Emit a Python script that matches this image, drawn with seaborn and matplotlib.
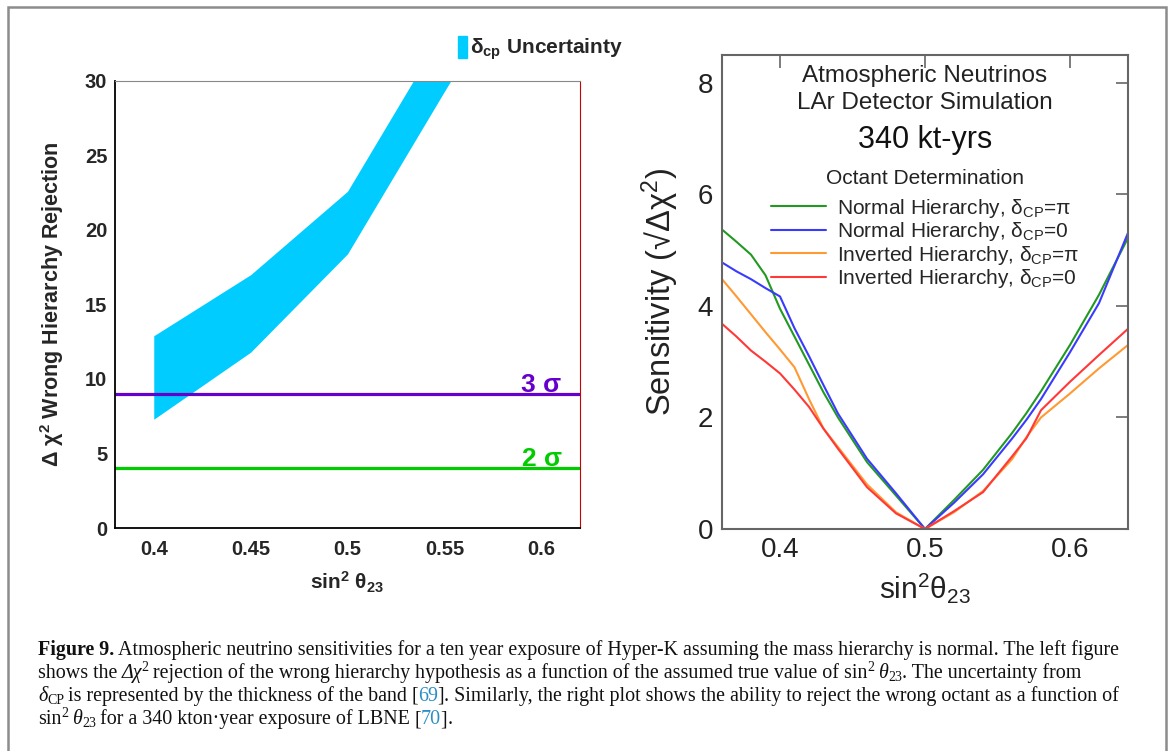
import numpy as np
import pandas as pd
import matplotlib.pyplot as plt
import seaborn as sns
from matplotlib.ticker import MultipleLocator, FuncFormatter
from matplotlib.patches import Patch, Rectangle

# left panel: wrong hierarchy rejection band
band_x = [0.40, 0.45, 0.50, 0.55, 0.60]
band_lo = [7.3, 11.8, 18.4, 29.3, 40.0]
band_hi = [12.9, 17.0, 22.6, 33.5, 45.0]
sigma_levels = [9, 4]
sigma_labels = ["3 σ", "2 σ"]
sigma_colors = ["#6600cc", "#00cc00"]

# right panel: octant determination
oct_x = [0.36, 0.37, 0.38, 0.39, 0.40, 0.41, 0.42, 0.43, 0.44, 0.46, 0.48, 0.50,
         0.52, 0.54, 0.56, 0.57, 0.58, 0.60, 0.62, 0.64]
nh_pi = [5.37, 5.15, 4.92, 4.55, 3.95, 3.45, 2.95, 2.45, 2.0, 1.2, 0.6, 0.0,
         0.52, 1.06, 1.72, 2.08, 2.47, 3.3, 4.2, 5.22]
nh_0 = [4.78, 4.62, 4.48, 4.32, 4.17, 3.6, 3.1, 2.58, 2.07, 1.26, 0.64, 0.0,
        0.47, 0.98, 1.62, 1.96, 2.33, 3.17, 4.05, 5.31]
ih_pi = [4.48, 4.17, 3.85, 3.53, 3.22, 2.9, 2.33, 1.8, 1.47, 0.8, 0.3, 0.0,
         0.3, 0.68, 1.25, 1.65, 2.0, 2.43, 2.88, 3.3]
ih_0 = [3.68, 3.45, 3.2, 3.0, 2.79, 2.5, 2.19, 1.8, 1.44, 0.75, 0.28, 0.0,
        0.32, 0.66, 1.3, 1.63, 2.13, 2.64, 3.12, 3.59]
case_labels = [r"Normal Hierarchy, $\delta_{CP}$=$\pi$",
               r"Normal Hierarchy, $\delta_{CP}$=0",
               r"Inverted Hierarchy, $\delta_{CP}$=$\pi$",
               r"Inverted Hierarchy, $\delta_{CP}$=0"]
case_colors = ["#229922", "#3a3aff", "#ff9933", "#ff3838"]

sns.set_style("white")
plt.rcParams['font.family'] = ['Liberation Sans', 'DejaVu Sans']
plt.rcParams['mathtext.fontset'] = 'custom'
plt.rcParams['mathtext.rm'] = 'Liberation Sans'
plt.rcParams['mathtext.it'] = 'Liberation Sans:italic'
plt.rcParams['mathtext.bf'] = 'Liberation Sans:bold'
plt.rcParams['mathtext.default'] = 'regular'

W, H = 1171, 751
fig = plt.figure(figsize=(W / 100, H / 100), dpi=100)

# ---------- left panel
axL = fig.add_axes([115 / W, 1 - 528 / H, 465 / W, 447 / H])
axL.fill_between(band_x, band_lo, band_hi, color="#00ccff", lw=0)
for lev, lab, col in zip(sigma_levels, sigma_labels, sigma_colors):
    axL.axhline(lev, color=col, lw=2.3)
    axL.text(0.6105, lev + 0.15, lab, color=col, ha='right', va='baseline',
             fontsize=19, fontweight='bold')
axL.set_xlim(0.38, 0.62)
axL.set_ylim(0, 30)
axL.xaxis.set_major_locator(MultipleLocator(0.05))
axL.xaxis.set_minor_locator(MultipleLocator(0.01))
axL.yaxis.set_major_locator(MultipleLocator(5))
axL.yaxis.set_minor_locator(MultipleLocator(1))
axL.xaxis.set_major_formatter(FuncFormatter(lambda v, p: f"{v:g}"))
axL.yaxis.set_major_formatter(FuncFormatter(lambda v, p: f"{v:g}"))
axL.tick_params(which='major', direction='in', length=9.5, width=1, labelsize=14.5)
axL.tick_params(which='minor', direction='in', length=5, width=1)
axL.tick_params(axis='x', pad=8.5)
axL.tick_params(axis='y', pad=5.5)
for lbl in axL.get_xticklabels() + axL.get_yticklabels():
    lbl.set_fontweight('bold')
for s in ['left', 'bottom']:
    axL.spines[s].set_color('black')
    axL.spines[s].set_linewidth(1.3)
axL.spines['top'].set_color('#888888')
axL.spines['right'].set_color('#cc0000')
axL.set_xlabel(r"sin$^{\mathbf{2}}$ θ$_{\mathbf{23}}$", fontsize=15, fontweight='bold')
axL.set_ylabel(r"Δ χ$^{\mathbf{2}}$ Wrong Hierarchy Rejection", fontsize=15.5, fontweight='bold')
axL.xaxis.set_label_coords(0.5, -0.094)
axL.yaxis.set_label_coords(-0.105, 0.5)

fig.legend(handles=[Patch(color="#00ccff")],
           labels=[r"$\delta_{\mathbf{cp}}$ Uncertainty"],
           loc='upper left', bbox_to_anchor=(458 / W, 1 - 36 / H),
           frameon=False, borderpad=0, borderaxespad=0,
           handlelength=0.42, handleheight=1.25, handletextpad=0.15,
           prop={'weight': 'bold', 'size': 15})

# ---------- right panel
df = pd.DataFrame({
    's2': oct_x * 4,
    'sens': nh_pi + nh_0 + ih_pi + ih_0,
    'case': np.repeat(case_labels, len(oct_x)),
})
axR = fig.add_axes([722 / W, 1 - 529 / H, 406 / W, 474 / H])
sns.lineplot(data=df, x='s2', y='sens', hue='case', hue_order=case_labels,
             palette=case_colors, estimator=None, sort=False, lw=1.5, ax=axR)
axR.axhline(0, color='#000088', lw=2)
axR.set_xlim(0.36, 0.64)
axR.set_ylim(0, 8.5)
axR.xaxis.set_major_locator(MultipleLocator(0.1))
axR.yaxis.set_major_locator(MultipleLocator(2))
axR.xaxis.set_major_formatter(FuncFormatter(lambda v, p: f"{v:g}"))
axR.tick_params(direction='in', length=9, width=1.2, color='#666666',
                top=True, right=True, labelsize=20, labelcolor='#222222')
axR.tick_params(axis='x', pad=6)
axR.tick_params(axis='y', pad=6.5)
for s in axR.spines.values():
    s.set_color('#666666')
    s.set_linewidth(1.5)
axR.set_xlabel(r"sin$^2$θ$_{23}$", fontsize=21.5, color='#222222')
axR.set_ylabel("Sensitivity (√Δχ$^2$)", fontsize=23.5, color='#222222')
axR.xaxis.set_label_coords(0.5, -0.088)
axR.yaxis.set_label_coords(-0.101, 0.5)

axR.text(0.5, 0.955, "Atmospheric Neutrinos", transform=axR.transAxes,
         ha='center', va='center', fontsize=17.5, color='#222222')
axR.text(0.5, 0.899, "LAr Detector Simulation", transform=axR.transAxes,
         ha='center', va='center', fontsize=17.5, color='#222222')
axR.text(0.5, 0.82, "340 kt-yrs", transform=axR.transAxes,
         ha='center', va='center', fontsize=22, color='#111111')
axR.text(0.5, 0.739, "Octant Determination", transform=axR.transAxes,
         ha='center', va='center', fontsize=15, color='#222222')
sns.move_legend(axR, 'upper center', bbox_to_anchor=(0.5, 0.723),
                title=None, frameon=False, fontsize=15,
                handlelength=2.65, handletextpad=0.5,
                labelspacing=0.02, borderpad=0)

# ---------- frame
fig.add_artist(Rectangle((8 / W, -0.05), (1166 - 8) / W, 1.05 - 7 / H,
                         transform=fig.transFigure, fill=False,
                         ec='#8c8c8c', lw=1.8))

# ---------- caption
renderer = fig.canvas.get_renderer()
serif = ['Liberation Serif', 'DejaVu Serif']
cap_size = 14.4
small = 10
blue = '#2a8fc6'


def caption_line(x_px, y_px, parts):
    x = x_px
    for text, kw in parts:
        kw = dict(kw)
        dy = kw.pop('dy', 0)
        gap = kw.pop('gap', 0)
        kw.setdefault('fontsize', cap_size)
        t = fig.text(x / W, 1 - (y_px + dy) / H, text, ha='left', va='baseline',
                     family=serif, color=kw.pop('color', '#111111'), **kw)
        x = t.get_window_extent(renderer).x1 + gap


sp = 4
x0 = 38
caption_line(x0, 655, [
    ("Figure 9.", dict(fontweight='bold', gap=sp)),
    ("Atmospheric neutrino sensitivities for a ten year exposure of Hyper-K assuming "
     "the mass hierarchy is normal. The left figure", {}),
])
caption_line(x0, 678, [
    ("shows the", dict(gap=sp)),
    ("Δχ", dict(style='italic')),
    ("2", dict(fontsize=small, dy=-7, gap=sp)),
    ("rejection of the wrong hierarchy hypothesis as a function of the assumed true value of sin", {}),
    ("2", dict(fontsize=small, dy=-7, gap=sp)),
    ("θ", dict(style='italic')),
    ("23", dict(fontsize=small, dy=3)),
    (". The uncertainty from", {}),
])
caption_line(x0, 701, [
    ("δ", dict(style='italic')),
    ("CP", dict(fontsize=small, dy=3, gap=sp)),
    ("is represented by the thickness of the band", dict(gap=sp)),
    ("[", {}),
    ("69", dict(color=blue)),
    ("]", {}),
    (". Similarly, the right plot shows the ability to reject the wrong octant as a function of", {}),
])
caption_line(x0, 724, [
    ("sin", {}),
    ("2", dict(fontsize=small, dy=-7, gap=sp)),
    ("θ", dict(style='italic')),
    ("23", dict(fontsize=small, dy=3, gap=sp)),
    ("for a 340 kton·year exposure of LBNE", dict(gap=sp)),
    ("[", {}),
    ("70", dict(color=blue)),
    ("]", {}),
    (".", {}),
])

fig.savefig("out.png", dpi=100)
